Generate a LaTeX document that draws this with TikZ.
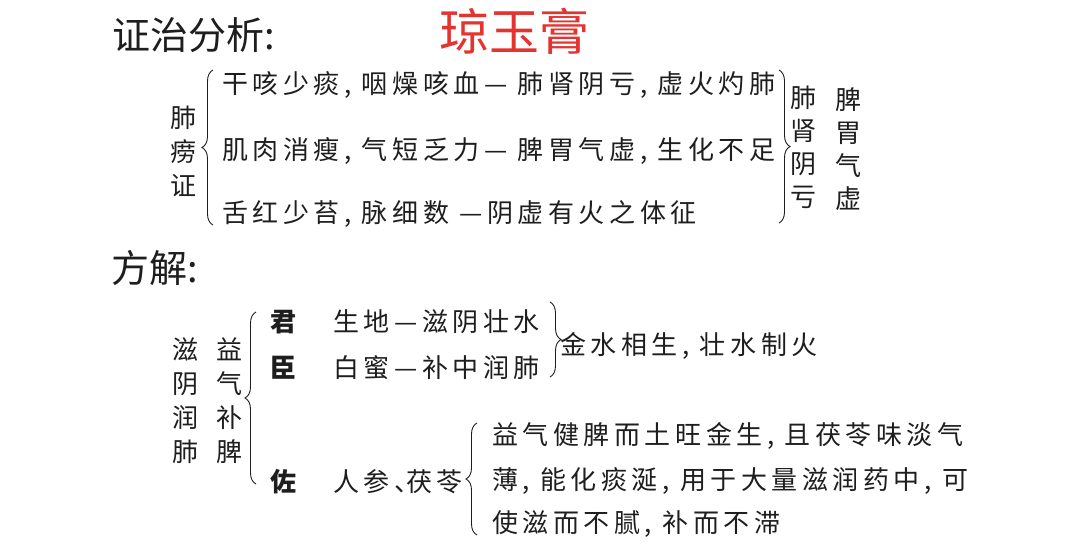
\documentclass[tikz,border=0pt]{standalone}
\usepackage{fontspec}
\usepackage{tikz}
\usetikzlibrary{decorations.pathreplacing}
\setmainfont{Noto Sans CJK SC}
\newfontfamily\cjk[LetterSpace=17.5]{Noto Sans CJK SC}
\definecolor{titlered}{RGB}{228,52,48}
\definecolor{inkcolor}{RGB}{30,30,30}

\begin{document}
\begin{tikzpicture}[x=1pt, y=-1pt, inkcolor,
    rowtext/.style={anchor=west, inner sep=0pt, text height=22.9pt, text depth=3.1pt, font=\cjk\fontsize{26}{26}\selectfont},
    vlabel/.style={inner sep=0pt, align=center, font=\fontsize{26}{34}\selectfont},
    role/.style={inner sep=0pt, text height=22.9pt, text depth=3.1pt, font=\bfseries\fontsize{26}{26}\selectfont},
    headtext/.style={anchor=west, inner sep=0pt, text height=33.4pt, text depth=4.6pt, font=\fontsize{38}{38}\selectfont},
    curly/.style={decorate, decoration={brace, amplitude=11pt}, line width=0.9pt}]
    \fill[white] (0,0) rectangle (1080,560);
    \useasboundingbox (0,0) rectangle (1080,560);

    % Titre
    \node[headtext] (zzfx) at (112,35) {证治分析:};
    \node[inner sep=0pt, text height=44pt, text depth=6pt, font=\fontsize{50}{50}\selectfont, titlered] (qyg) at (514,31) {琼玉膏};

    % === Bloc du haut ===
    \node[vlabel] (fl) at (183,151) {肺\\痨\\证};
    \node[rowtext] (r1) at (222,84) {干咳少痰, 咽燥咳血— 肺肾阴亏, 虚火灼肺};
    \node[rowtext] (r2) at (222,150) {肌肉消瘦, 气短乏力— 脾胃气虚, 生化不足};
    \node[rowtext] (r3) at (222,213) {舌红少苔, 脉细数 —阴虚有火之体征};
    \coordinate (b1top) at (213,70);
    \coordinate (b1bot) at (213,225);
    \draw[curly] (b1bot) -- (b1top);

    \coordinate (b2top) at (779,70);
    \coordinate (b2bot) at (779,223);
    \draw[curly] (b2top) -- (b2bot);
    \node[vlabel, font=\fontsize{26}{33}\selectfont] (fsyk) at (803,147) {肺\\肾\\阴\\亏};
    \node[vlabel, font=\fontsize{26}{33}\selectfont] (pwqx) at (848,149) {脾\\胃\\气\\虚};

    % === Bloc du bas ===
    \node[headtext] (fj) at (111,268) {方解:};
    \node[vlabel] (zyrf) at (185,401) {滋\\阴\\润\\肺};
    \node[vlabel] (yqbp) at (229,401) {益\\气\\补\\脾};
    \coordinate (b3top) at (256,312);
    \coordinate (b3bot) at (256,484);
    \draw[curly] (b3bot) -- (b3top);

    % Jun, Chen, Zuo
    \node[role] (jun) at (283,322) {君};
    \node[role] (chen) at (283,368) {臣};
    \node[role] (zuo) at (283,482) {佐};
    \node[rowtext] (sd) at (333,322) {生地—滋阴壮水};
    \node[rowtext] (bm) at (333,368) {白蜜—补中润肺};
    \node[rowtext] (rs) at (333,482) {人参、\kern-14pt茯苓};

    \coordinate (b4top) at (550,302);
    \coordinate (b4bot) at (550,377);
    \draw[curly] (b4top) -- (b4bot);
    \node[rowtext] (jssh) at (560,345) {金水相生, 壮水制火};

    \coordinate (b5top) at (477,423);
    \coordinate (b5bot) at (477,535);
    \draw[curly] (b5bot) -- (b5top);
    \node[rowtext] (e1) at (492,435) {益气健脾而土旺金生, 且茯苓味淡气};
    \node[rowtext] (e2) at (492,480) {薄, 能化痰涎, 用于大量滋润药中, 可};
    \node[rowtext] (e3) at (492,523) {使滋而不腻, 补而不滞};
\end{tikzpicture}
\end{document}
